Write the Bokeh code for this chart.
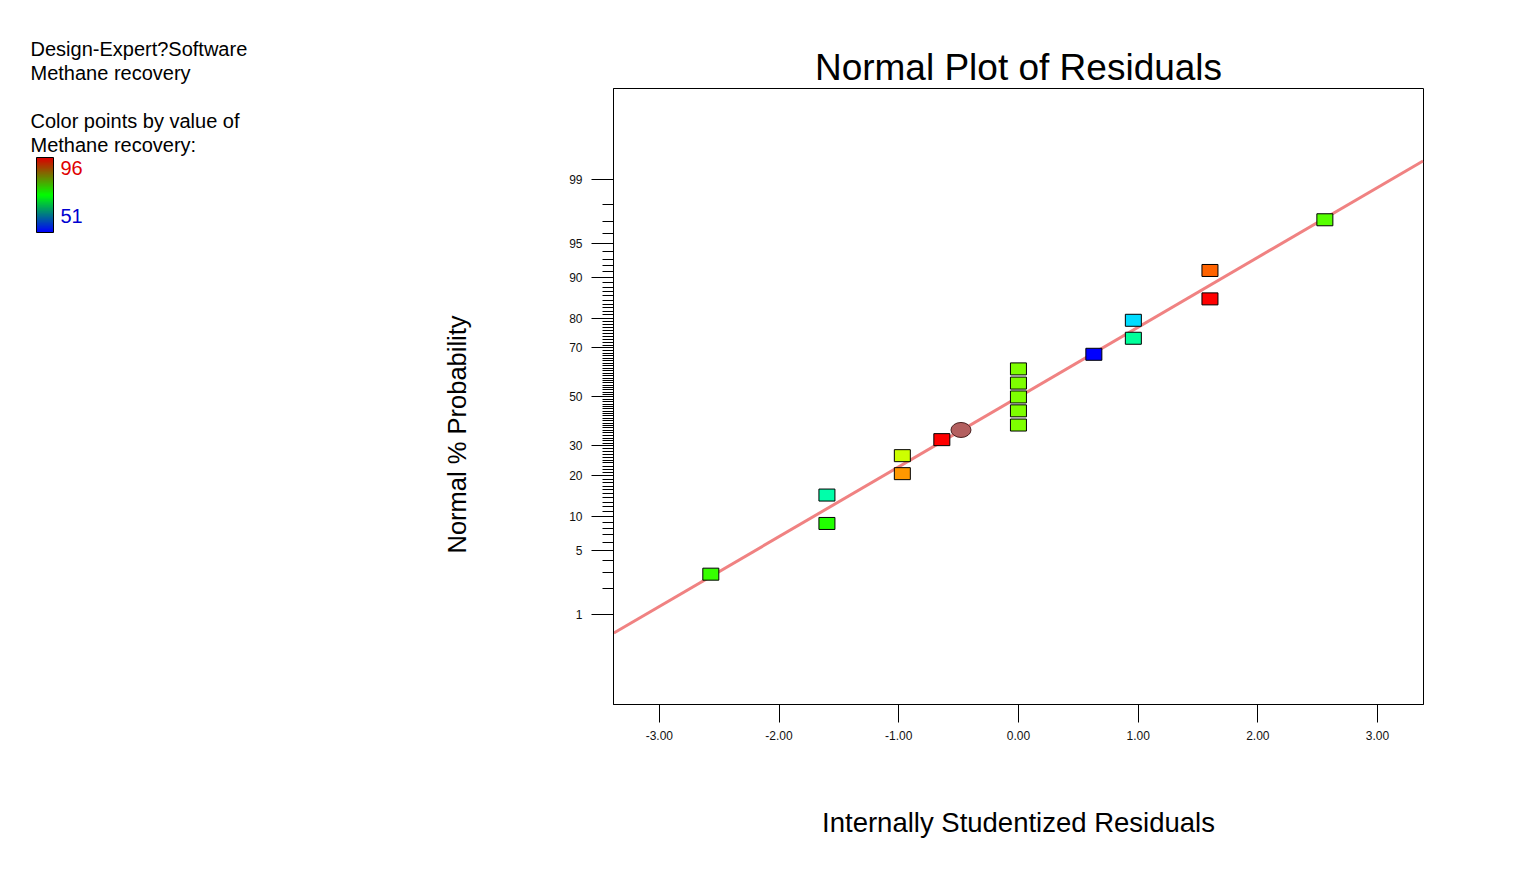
import colorsys
from statistics import NormalDist
from bokeh.plotting import figure
from bokeh.models import (Range1d, FixedTicker, CustomJSTickFormatter, LinearColorMapper,
                          ColumnDataSource, ColorBar, Title)
from bokeh.embed import file_html
from bokeh.resources import INLINE

FONT = "Liberation Sans"
nd = NormalDist()


def zscore(p):
    return nd.inv_cdf(p / 100.0)


# ---------------- data ----------------
residuals = [-2.57, -1.60, -1.60, -0.97, -0.97, -0.64, 0.00, 0.00, 0.00, 0.00, 0.00,
             0.63, 0.96, 0.96, 1.60, 1.60, 2.56]
probabilities = [2.9, 8.8, 14.7, 20.6, 26.5, 32.4, 38.2, 44.1, 50.0, 55.9, 61.8,
                 67.6, 73.5, 79.4, 85.3, 91.2, 97.1]
recovery = [75.8, 75.0, 66.0, 89.3, 82.5, 96.0, 79.0, 79.0, 79.0, 79.0, 79.0,
            51.0, 66.8, 60.8, 96.0, 91.5, 77.3]

highlight_residual = [-0.48]
highlight_probability = [36.2]

fit_x = [-3.38, 3.38]
fit_slope = 0.747  # normal score per studentized residual

recovery_low, recovery_high = 51, 96

y_major_probs = [1, 5, 10, 20, 30, 50, 70, 80, 90, 95, 99]
y_major_labels = ["1", "5", "10", "20", "30", "50", "70", "80", "90", "95", "99"]
y_minor_probs = [p for p in range(1, 100) if p not in y_major_probs]
x_ticks = [-3, -2, -1, 0, 1, 2, 3]
x_tick_labels = ["-3.00", "-2.00", "-1.00", "0.00", "1.00", "2.00", "3.00"]

header_lines = ["Design-Expert?Software", "Methane recovery", "",
                "Color points by value of", "Methane recovery:"]

LOOKUP = """
for (let i = 0; i < tvals.length; i++) { if (Math.abs(tvals[i] - tick) < 1e-6) return tlabels[i]; }
return "";
"""

# ---------------- layout constants (canvas pixels) ----------------
W, H = 1519, 860
FR_L, FR_R, FR_T, FR_B = 613, 1423, 88, 704
X0, X1 = -3.383, 3.384
Y0, Y1 = -3.29, 3.30
KEY_L, KEY_T, KEY_B, KEY_W = 36, 157, 232, 17
HEAD_L, HEAD_B = 30, 157

# ---------------- colour mapping (blue -> green -> red by hue) ----------------
palette = []
for i in range(256):
    h = (240.0 * (1 - i / 255.0)) / 360.0
    r, g, b = colorsys.hsv_to_rgb(h, 1.0, 1.0)
    palette.append("#%02x%02x%02x" % (int(r * 255), int(g * 255), int(b * 255)))
mapper = LinearColorMapper(palette=palette, low=recovery_low, high=recovery_high)

# key palette: linear blue -> green -> red (as in the key bar)
key_palette = []
for i in range(100):
    t = i / 99
    if t < 0.5:
        u = t / 0.5
        c = (0, int(255 * u), int(255 * (1 - u)))
    else:
        u = (t - 0.5) / 0.5
        c = (int(220 * u), int(255 * (1 - u)), 0)
    key_palette.append("#%02x%02x%02x" % c)
key_mapper = LinearColorMapper(palette=key_palette, low=recovery_low, high=recovery_high)


def key_value_at(py):
    # value on the key bar whose position is pixel row py
    return recovery_low + (KEY_B - py) / (KEY_B - KEY_T) * (recovery_high - recovery_low)


# ---------------- main plot ----------------
p = figure(width=W, height=H, output_backend="svg", toolbar_location=None,
           x_range=Range1d(X0, X1), y_range=Range1d(Y0, Y1),
           min_border_left=FR_L, min_border_right=W - FR_R, min_border_top=FR_T,
           min_border_bottom=H - FR_B, title="Normal Plot of Residuals")
p.grid.visible = False
p.outline_line_color = "black"
p.outline_line_width = 1

p.title.text_font = FONT
p.title.text_font_size = "37px"
p.title.text_font_style = "normal"
p.title.text_color = "black"
p.title.align = "center"
p.title.standoff = 2

# fit line
p.line(x=fit_x, y=[fit_slope * v for v in fit_x], line_color="#f08282", line_width=3)

# points
src = ColumnDataSource(dict(x=residuals, y=[zscore(v) for v in probabilities], rec=recovery))
p.rect(x="x", y="y", width=16, height=12, width_units="screen", height_units="screen",
       source=src, fill_color={"field": "rec", "transform": mapper},
       line_color="black", line_width=1)
p.ellipse(x=highlight_residual, y=[zscore(v) for v in highlight_probability],
          width=20, height=15, width_units="screen", height_units="screen",
          fill_color="#b35f5f", line_color="#4a2020", line_width=1)

# axes
xa = p.xaxis[0]
xa.ticker = FixedTicker(ticks=x_ticks)
xa.formatter = CustomJSTickFormatter(args=dict(tvals=x_ticks, tlabels=x_tick_labels), code=LOOKUP)
xa.axis_label = "Internally Studentized Residuals"
xa.axis_label_text_font = FONT
xa.axis_label_text_font_size = "27.5px"
xa.axis_label_text_font_style = "normal"
xa.axis_label_text_color = "black"
xa.axis_label_standoff = 64
xa.major_tick_out = 18
xa.major_tick_in = 0
xa.minor_tick_line_color = None
xa.major_label_text_font = FONT
xa.major_label_text_font_size = "12px"
xa.major_label_text_color = "#111111"
xa.major_label_standoff = 8
xa.axis_line_color = "black"

ya = p.yaxis[0]
major_z = [zscore(v) for v in y_major_probs]
ya.ticker = FixedTicker(ticks=major_z, minor_ticks=[zscore(v) for v in y_minor_probs])
ya.formatter = CustomJSTickFormatter(args=dict(tvals=major_z, tlabels=y_major_labels), code=LOOKUP)
ya.major_tick_out = 22
ya.major_tick_in = 0
ya.minor_tick_out = 11
ya.minor_tick_in = 0
ya.major_label_text_font = FONT
ya.major_label_text_font_size = "12px"
ya.major_label_text_color = "#111111"
ya.major_label_standoff = 9
ya.axis_line_color = "black"

# y axis title as a side title on the left
ylab = Title(text="Normal % Probability", align="left", offset=151, standoff=192,
             text_font=FONT, text_font_size="25.5px", text_font_style="normal",
             text_color="black")
p.add_layout(ylab, "left")

# header texts: title of an invisible horizontal bar placed at the top-left
header = ColorBar(color_mapper=key_mapper, orientation="horizontal", width=220, height=1,
                  padding=0, margin=0, location=(HEAD_L - FR_L, FR_B - HEAD_B),
                  bar_line_color=None, scale_alpha=0.0,
                  ticker=FixedTicker(ticks=[]), label_standoff=0,
                  major_tick_line_color=None, minor_tick_line_color=None,
                  major_tick_in=0, major_label_text_font_size="1px",
                  title="\n".join(header_lines), title_text_font=FONT,
                  title_text_font_size="20px", title_text_font_style="normal",
                  title_text_color="black", title_standoff=0,
                  title_text_line_height=1.1,
                  background_fill_color=None, border_line_color=None)
p.add_layout(header)

# colour key with the high value label
key_hi = ColorBar(color_mapper=key_mapper, orientation="vertical", width=KEY_W,
                  height=KEY_B - KEY_T, padding=0, margin=0,
                  location=(KEY_L - FR_L, FR_B - KEY_B),
                  bar_line_color="black",
                  ticker=FixedTicker(ticks=[key_value_at(167)]),
                  formatter=CustomJSTickFormatter(
                      args=dict(tvals=[key_value_at(167)], tlabels=[str(recovery_high)]),
                      code=LOOKUP),
                  major_tick_line_color=None, minor_tick_line_color=None,
                  major_label_text_font=FONT, major_label_text_font_size="20px",
                  major_label_text_color="#e00000", label_standoff=7,
                  background_fill_color=None, border_line_color=None)
p.add_layout(key_hi)

# low value label (transparent bar over the key)
key_lo = ColorBar(color_mapper=key_mapper, orientation="vertical", width=KEY_W,
                  height=KEY_B - KEY_T, padding=0, margin=0,
                  location=(KEY_L - FR_L, FR_B - KEY_B),
                  bar_line_color=None, scale_alpha=0.0,
                  ticker=FixedTicker(ticks=[key_value_at(215)]),
                  formatter=CustomJSTickFormatter(
                      args=dict(tvals=[key_value_at(215)], tlabels=[str(recovery_low)]),
                      code=LOOKUP),
                  major_tick_line_color=None, minor_tick_line_color=None,
                  major_label_text_font=FONT, major_label_text_font_size="20px",
                  major_label_text_color="#0000d0", label_standoff=7,
                  background_fill_color=None, border_line_color=None)
p.add_layout(key_lo)

open("out.html", "w").write(file_html(p, INLINE))
